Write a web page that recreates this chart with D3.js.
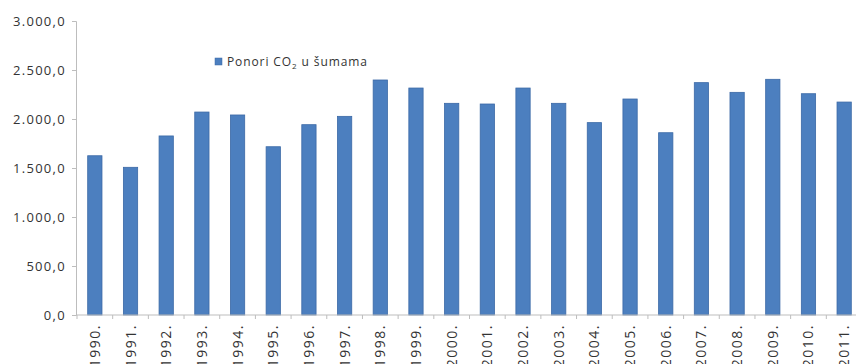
<!DOCTYPE html>
<html><head><meta charset="utf-8">
<script src="https://cdn.jsdelivr.net/npm/d3@7"></script>
<style>body{margin:0;background:#fff;} svg{display:block;font-family:"Open Sans",sans-serif;}</style>
</head><body><svg id="c" width="856" height="364"></svg>
<script>
const years = ["1990.","1991.","1992.","1993.","1994.","1995.","1996.","1997.","1998.","1999.","2000.","2001.","2002.","2003.","2004.","2005.","2006.","2007.","2008.","2009.","2010.","2011."];
const sinks = [1625,1507,1827,2071,2041,1717,1942,2027,2398,2316,2160,2153,2316,2160,1963,2204,1860,2371,2272,2405,2258,2173];
const yTicks = [0,500,1000,1500,2000,2500,3000];
const seriesName = "Ponori CO";

(function(){
const svg = d3.select("#c");
const pL = 77, pR = 862, pT = 21, pB = 315;
const x = d3.scaleBand().domain(years).range([pL, pR]).paddingInner(0.6).paddingOuter(0.3);
const y = d3.scaleLinear().domain([0,3000]).range([pB, pT]);
const loc = d3.formatLocale({decimal:",", thousands:".", grouping:[3], currency:["",""]});
const fmt = loc.format(",.1f");

// y axis
const gy = svg.append("g").attr("transform", `translate(${pL-1},0)`)
  .call(d3.axisLeft(y).tickValues(yTicks).tickFormat(fmt).tickSize(4).tickPadding(6));
gy.select(".domain").attr("stroke","#bdbdbd");
gy.selectAll(".tick line").attr("stroke","#bdbdbd");
gy.selectAll("text").attr("fill","#333").style("font-size","13px").style("letter-spacing","1.3px")
  .style("font-family","'Open Sans',sans-serif");

// bars
svg.append("g").selectAll("rect").data(sinks).join("rect")
  .attr("x",(d,i)=>x(years[i])).attr("width",x.bandwidth())
  .attr("y",d=>y(d)).attr("height",d=>y(0)-y(d))
  .attr("fill","#4c7fbf").attr("stroke","#3b69a6").attr("stroke-width",0.8);

// x axis
const step = x.step();
const gx = svg.append("g").attr("transform",`translate(0,${pB})`);
gx.append("line").attr("x1",pL-1).attr("x2",856).attr("stroke","#bdbdbd");
gx.selectAll("line.tk").data(years).join("line").attr("class","tk")
  .attr("x1",(d)=>x(d)+x.bandwidth()/2-step/2).attr("x2",(d)=>x(d)+x.bandwidth()/2-step/2)
  .attr("y1",0).attr("y2",4).attr("stroke","#bdbdbd");
gx.selectAll("text").data(years).join("text")
  .attr("transform",d=>`translate(${x(d)+x.bandwidth()/2+5},9) rotate(-90)`)
  .attr("text-anchor","end").attr("fill","#333").style("font-size","14px").style("letter-spacing","1.5px")
  .text(d=>d);

// legend
const lg = svg.append("g").attr("transform","translate(215,58)");
lg.append("rect").attr("width",7).attr("height",7).attr("fill","#4c7fbf").attr("stroke","#3b69a6").attr("stroke-width",0.5);
const t = lg.append("text").attr("x",12).attr("y",7.5).attr("fill","#333").style("font-size","12px").style("letter-spacing","0.9px");
t.append("tspan").text(seriesName);
t.append("tspan").attr("dy",3).style("font-size","8px").text("2");
t.append("tspan").attr("dy",-3).text(" u šumama");
})();
</script></body></html>
